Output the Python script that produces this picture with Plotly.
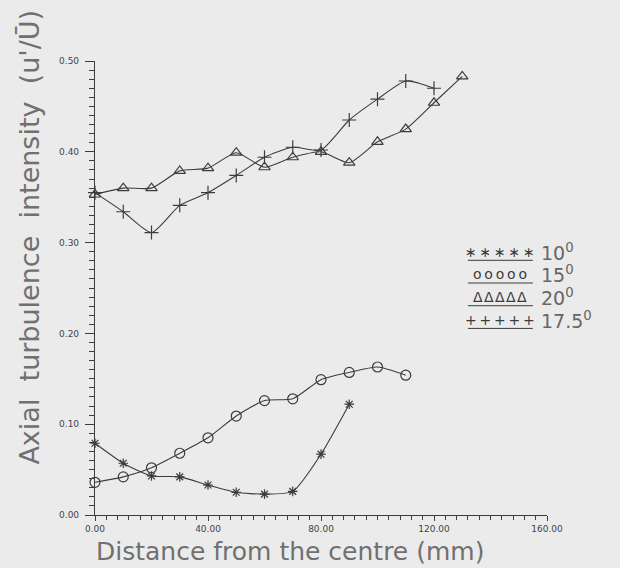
import plotly.graph_objects as go

# Radial distance from the jet centre (mm) and axial turbulence intensity u'/U
x_10 = [0, 10, 20, 30, 40, 50, 60, 70, 80, 90]
y_10 = [0.079, 0.057, 0.043, 0.042, 0.033, 0.025, 0.023, 0.026, 0.067, 0.122]

x_15 = [0, 10, 20, 30, 40, 50, 60, 70, 80, 90, 100, 110]
y_15 = [0.036, 0.042, 0.052, 0.068, 0.085, 0.109, 0.126, 0.128, 0.149, 0.157, 0.163, 0.154]

x_20 = [0, 10, 20, 30, 40, 50, 60, 70, 80, 90, 100, 110, 120, 130]
y_20 = [0.353, 0.360, 0.360, 0.379, 0.382, 0.399, 0.383, 0.394, 0.400, 0.388, 0.411, 0.425, 0.454, 0.483]

x_175 = [0, 10, 20, 30, 40, 50, 60, 70, 80, 90, 100, 110, 120]
y_175 = [0.355, 0.334, 0.311, 0.341, 0.355, 0.374, 0.394, 0.405, 0.402, 0.435, 0.458, 0.478, 0.470]

series_labels = ["10<sup>0</sup>", "15<sup>0</sup>", "20<sup>0</sup>", "17.5<sup>0</sup>"]
legend_glyphs = ["\u2217\u2009\u2217\u2009\u2217\u2009\u2217\u2009\u2217",
                 "o\u2009o\u2009o\u2009o\u2009o",
                 "\u0394\u200a\u0394\u200a\u0394\u200a\u0394\u200a\u0394",
                 "+\u2009+\u2009+\u2009+\u2009+"]

INK = "#3c3c3c"
BG = "#ebebeb"
FONT = "DejaVu Sans"
SP = "\u00a0 "

fig = go.Figure()

def add_series(xs, ys, symbol, size):
    fig.add_trace(go.Scatter(
        x=xs, y=ys, mode="lines+markers",
        line=dict(color=INK, width=1.1, shape="spline", smoothing=0.6),
        marker=dict(symbol=symbol, size=size, color=INK,
                    line=dict(color=INK, width=1.2)),
        showlegend=False, cliponaxis=False,
    ))

add_series(x_10, y_10, "asterisk-open", 8)
add_series(x_15, y_15, "circle-open", 10)
add_series(x_20, y_20, "triangle-up-open", 10)
add_series(x_175, y_175, "cross-thin-open", 10)

# empty trace that carries the overlaid minor-tick axes
fig.add_trace(go.Scatter(x=[], y=[], xaxis="x2", yaxis="y2",
                         showlegend=False, hoverinfo="skip"))

# plotter-style legend: row of glyphs over a rule, then the angle
legend_rows = [0.290, 0.265, 0.240, 0.215]
for glyphs, label, yr in zip(legend_glyphs, series_labels, legend_rows):
    fig.add_annotation(x=143.5, y=yr, xref="x", yref="y", text=glyphs,
                       showarrow=False, xanchor="center", yanchor="middle",
                       font=dict(family=FONT, size=14, color=INK))
    fig.add_shape(type="line", xref="x", yref="y", x0=132, x1=155,
                  y0=yr - 0.0095, y1=yr - 0.0095,
                  line=dict(color=INK, width=1))
    fig.add_annotation(x=157.0, y=yr, xref="x", yref="y", text=label,
                       showarrow=False, xanchor="left", yanchor="middle",
                       font=dict(family=FONT, size=19, color="#666666"))

# axis titles
fig.add_annotation(x=0.431, y=-0.080, xref="paper", yref="paper",
                   text="Distance from the centre (mm)", showarrow=False,
                   xanchor="center", yanchor="middle",
                   font=dict(family=FONT, size=25, color="#707070"))
fig.add_annotation(x=-0.145, y=0.612, xref="paper", yref="paper",
                   text="Axial" + SP + "turbulence" + SP + "intensity" + SP + "(u'/\u016a)",
                   showarrow=False, textangle=-90, xanchor="center", yanchor="middle",
                   font=dict(family=FONT, size=27, color="#707070"))

tick_font = dict(family=FONT, size=9, color="#444444")

fig.update_layout(
    width=620, height=568,
    margin=dict(l=95, r=73, t=61, b=53),
    paper_bgcolor=BG, plot_bgcolor=BG,
    xaxis=dict(
        range=[0, 160], showgrid=False, zeroline=False,
        showline=True, linecolor=INK, linewidth=1.2,
        tickmode="linear", tick0=0, dtick=40, tickformat=".2f",
        ticks="outside", ticklen=5, tickwidth=1, tickcolor=INK,
        tickfont=tick_font,
    ),
    yaxis=dict(
        range=[0, 0.5], showgrid=False, zeroline=False,
        showline=True, linecolor=INK, linewidth=1.2,
        tickmode="linear", tick0=0, dtick=0.1, tickformat=".2f",
        ticks="outside", ticklen=9, tickwidth=1, tickcolor=INK,
        tickfont=tick_font, ticklabelstandoff=4,
    ),
    # minor graduations: every 4 mm and every 0.01
    xaxis2=dict(
        overlaying="x", anchor="y", side="bottom", range=[0, 160],
        showgrid=False, zeroline=False, showline=False,
        tickmode="linear", tick0=0, dtick=4, showticklabels=False,
        ticks="outside", ticklen=4, tickwidth=1, tickcolor=INK,
    ),
    yaxis2=dict(
        overlaying="y", anchor="x", side="left", range=[0, 0.5],
        showgrid=False, zeroline=False, showline=False,
        tickmode="linear", tick0=0, dtick=0.01, showticklabels=False,
        ticks="outside", ticklen=5, tickwidth=1, tickcolor=INK,
    ),
)

fig.write_html("out.html")
